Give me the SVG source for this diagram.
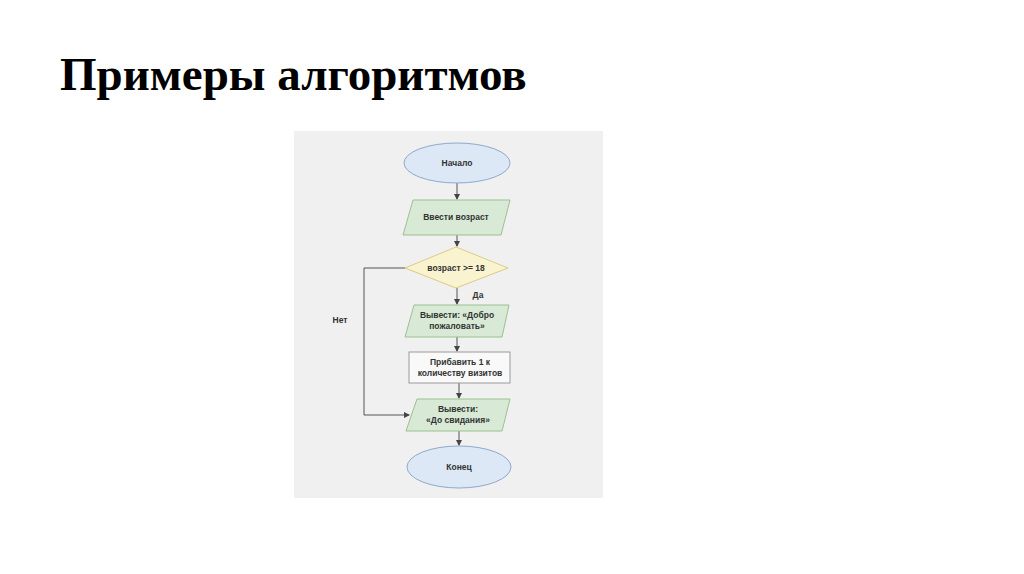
<svg xmlns="http://www.w3.org/2000/svg" width="1024" height="574" viewBox="0 0 1024 574">
  <defs>
    <marker id="arr" markerWidth="6" markerHeight="6" refX="5" refY="3" orient="auto" markerUnits="userSpaceOnUse">
      <path d="M0,0 L6,3 L0,6 Z" fill="#444"/>
    </marker>
    <style>
      .title { font-family: "Liberation Serif", "Times New Roman", serif; font-weight: bold; font-size: 47px; fill: #000; }
      .lbl { font-family: "Liberation Sans", Arial, sans-serif; font-weight: bold; font-size: 8.5px; fill: #333; text-anchor: middle; }
      .term { fill: #dce8f5; stroke: #8fa9cc; stroke-width: 1; }
      .io { fill: #d8ead6; stroke: #9cc08f; stroke-width: 1; }
      .dec { fill: #faf3cf; stroke: #dccb85; stroke-width: 1; }
      .proc { fill: #f9f9f9; stroke: #9a9a9a; stroke-width: 1; }
      .conn { fill: none; stroke: #555; stroke-width: 1; }
    </style>
  </defs>
  <rect x="0" y="0" width="1024" height="574" fill="#ffffff"/>
  <text class="title" x="60" y="90">Примеры алгоритмов</text>
  <rect x="294" y="131" width="309" height="367" fill="#f0f0f0"/>

  <g id="connectors">
    <line class="conn" x1="457" y1="183" x2="457" y2="199" marker-end="url(#arr)"/>
    <line class="conn" x1="457" y1="235" x2="457" y2="246" marker-end="url(#arr)"/>
    <line class="conn" x1="457" y1="288" x2="457" y2="304" marker-end="url(#arr)"/>
    <line class="conn" x1="457" y1="337" x2="457" y2="351" marker-end="url(#arr)"/>
    <line class="conn" x1="459" y1="383" x2="459" y2="398" marker-end="url(#arr)"/>
    <line class="conn" x1="459" y1="431" x2="459" y2="445" marker-end="url(#arr)"/>
    <polyline class="conn" points="405,268 364,268 364,415 409,415" marker-end="url(#arr)"/>
    <text class="lbl" x="340" y="323">Нет</text>
    <text class="lbl" x="478" y="298">Да</text>
  </g>

  <g id="start">
    <ellipse class="term" cx="457" cy="163" rx="53" ry="20"/>
    <text class="lbl" x="457" y="166">Начало</text>
  </g>
  <g id="input-age">
    <polygon class="io" points="413,200 510,200 501,235 403,235"/>
    <text class="lbl" x="456" y="220">Ввести возраст</text>
  </g>
  <g id="decision">
    <polygon class="dec" points="456,247 508,268 456,288 405,268"/>
    <text class="lbl" x="456" y="271">возраст &gt;= 18</text>
  </g>
  <g id="welcome">
    <polygon class="io" points="414,305 509,305 502,337 405,337"/>
    <text class="lbl" x="457" y="318">Вывести: «Добро</text>
    <text class="lbl" x="457" y="329">пожаловать»</text>
  </g>
  <g id="visits">
    <rect class="proc" x="409" y="352" width="101" height="31"/>
    <text class="lbl" x="460" y="365">Прибавить 1 к</text>
    <text class="lbl" x="460" y="376">количеству визитов</text>
  </g>
  <g id="goodbye">
    <polygon class="io" points="417,399 510,399 502,431 406,431"/>
    <text class="lbl" x="458" y="412">Вывести:</text>
    <text class="lbl" x="458" y="423">«До свидания»</text>
  </g>
  <g id="end">
    <ellipse class="term" cx="459" cy="467" rx="52" ry="21"/>
    <text class="lbl" x="459" y="470">Конец</text>
  </g>
</svg>
